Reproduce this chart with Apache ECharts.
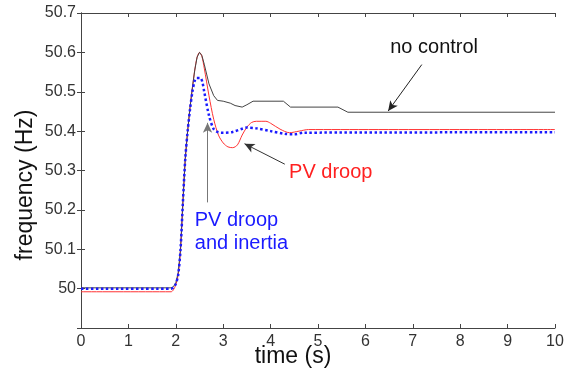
<html>
<head>
    <meta charset="utf-8">
    <title>frequency</title>
    <script src="https://cdn.jsdelivr.net/npm/echarts@6/dist/echarts.min.js"></script>
</head>
<body style="margin:0">
<div id="chartmain" style="width: 569px; height: 374px;"></div>
</body>
<script type="text/javascript">
    // data
    var noCtrlT = [0, 1.9, 1.95, 2.0, 2.05, 2.1, 2.15, 2.2, 2.25, 2.3, 2.35, 2.4, 2.45, 2.5, 2.55, 2.6, 2.7, 2.8, 2.88, 3.0, 3.15, 3.25, 3.4, 3.5, 3.63, 4.27, 4.42, 5.42, 5.63, 10];
    var noCtrlF = [50.002, 50.002, 50.005, 50.015, 50.04, 50.1, 50.22, 50.33, 50.4, 50.46, 50.51, 50.555, 50.588, 50.6, 50.592, 50.57, 50.52, 50.49, 50.478, 50.476, 50.471, 50.465, 50.461, 50.467, 50.476, 50.476, 50.461, 50.461, 50.448, 50.448];

    var droopT = [0, 1.9, 1.95, 2.0, 2.05, 2.1, 2.15, 2.2, 2.25, 2.3, 2.35, 2.4, 2.45, 2.5, 2.55, 2.6, 2.7, 2.8, 2.9, 3.0, 3.1, 3.2, 3.3, 3.4, 3.5, 3.6, 3.7, 3.9, 4.0, 4.2, 4.4, 4.6, 4.8, 10];
    var droopF = [49.992, 49.992, 49.997, 50.01, 50.035, 50.1, 50.22, 50.33, 50.4, 50.46, 50.51, 50.555, 50.588, 50.6, 50.59, 50.56, 50.49, 50.43, 50.39, 50.37, 50.36, 50.358, 50.365, 50.39, 50.41, 50.422, 50.425, 50.425, 50.42, 50.405, 50.396, 50.4, 50.404, 50.404];

    var inertiaT = [0, 1.9, 1.95, 2.0, 2.05, 2.1, 2.15, 2.2, 2.25, 2.3, 2.35, 2.4, 2.44, 2.52, 2.56, 2.6, 2.7, 2.8, 2.9, 3.0, 3.2, 3.4, 3.5, 3.7, 4.0, 4.3, 4.5, 4.7, 10];
    var inertiaF = [50.0, 50.0, 50.003, 50.012, 50.035, 50.1, 50.22, 50.33, 50.4, 50.455, 50.5, 50.528, 50.535, 50.535, 50.525, 50.5, 50.44, 50.405, 50.397, 50.396, 50.398, 50.406, 50.409, 50.407, 50.4, 50.393, 50.392, 50.396, 50.397];

    // annotations (data coords): text position, arrow start, arrow end
    var noCtrlNote = {text: 'no control', at: [7.45, 50.612], from: [7.19, 50.569], to: [6.48, 50.451]};
    var droopNote = {text: 'PV droop', at: [5.27, 50.296], from: [4.30, 50.316], to: [3.45, 50.368]};
    var inertiaNote = {text: 'PV droop\nand inertia', at: [2.40, 50.145], from: [2.67, 50.219], to: [2.67, 50.421]};

    var font = 'Liberation Sans, Arial, Helvetica, sans-serif';

    function pairs(t, f) {
        var out = [];
        for (var i = 0; i < t.length; i++) {
            out.push([t[i], f[i]]);
        }
        return out;
    }

    function arrow(note, color) {
        return {
            silent: true,
            symbol: ['none', 'arrow'],
            symbolSize: [7, 10],
            lineStyle: {color: color, width: 1, type: 'solid'},
            label: {show: false},
            data: [[{coord: note.from}, {coord: note.to}]]
        };
    }

    function label(note, color, align) {
        return {
            silent: true,
            symbol: 'circle',
            symbolSize: 0,
            label: {
                show: true,
                position: 'inside',
                align: align,
                color: color,
                fontSize: 20,
                lineHeight: 23,
                fontFamily: font,
                formatter: note.text
            },
            data: [{coord: note.at}]
        };
    }

    var myChart = echarts.init(document.getElementById('chartmain'));

    var axisLine = {show: true, lineStyle: {color: '#444', width: 1}};

    var option = {
        animation: false,
        backgroundColor: '#fff',
        grid: {left: 81, right: 14, top: 13, bottom: 46, outerBoundsMode: 'none', containLabel: false},
        xAxis: [{
            type: 'value', min: 0, max: 10, interval: 1,
            name: 'time (s)', nameLocation: 'middle', nameGap: 17, nameMoveOverlap: false,
            nameTextStyle: {fontSize: 23, color: '#111', fontFamily: font, padding: [0, 50, 0, 0]},
            axisLine: axisLine,
            axisTick: {inside: true, length: 4, lineStyle: {color: '#444'}},
            axisLabel: {color: '#333', fontSize: 16, fontFamily: font, margin: 6},
            splitLine: {show: false}
        }, {
            type: 'value', min: 0, max: 10, interval: 1, position: 'top',
            axisLine: axisLine,
            axisTick: {inside: true, length: 4, lineStyle: {color: '#444'}},
            axisLabel: {show: false},
            splitLine: {show: false}
        }],
        yAxis: [{
            type: 'value', min: 49.9, max: 50.7, interval: 0.1,
            name: 'frequency (Hz)', nameLocation: 'middle', nameGap: 44, nameMoveOverlap: false,
            nameTextStyle: {fontSize: 23, color: '#111', fontFamily: font, padding: [0, 29, 0, 0]},
            axisLine: axisLine,
            axisTick: {inside: true, length: 4, lineStyle: {color: '#444'}},
            axisLabel: {
                color: '#333', fontSize: 16, fontFamily: font, margin: 5,
                formatter: function (v) {
                    if (v < 49.95) return '';
                    if (Math.abs(v - 50) < 1e-6) return '50';
                    return v.toFixed(1);
                }
            },
            splitLine: {show: false}
        }, {
            type: 'value', min: 49.9, max: 50.7, interval: 0.1, position: 'right',
            axisLine: axisLine,
            axisTick: {inside: true, length: 4, lineStyle: {color: '#444'}},
            axisLabel: {show: false},
            splitLine: {show: false}
        }],
        series: [{
            name: 'PV droop',
            type: 'line',
            showSymbol: false,
            smooth: 0.3,
            data: pairs(droopT, droopF),
            lineStyle: {color: '#ff3333', width: 1},
            markLine: arrow(droopNote, '#333'),
            markPoint: label(droopNote, '#ff2020', 'center')
        }, {
            name: 'no control',
            type: 'line',
            showSymbol: false,
            data: pairs(noCtrlT, noCtrlF),
            lineStyle: {color: '#444', width: 1},
            markLine: arrow(noCtrlNote, '#222'),
            markPoint: label(noCtrlNote, '#111', 'center')
        }, {
            name: 'PV droop and inertia',
            type: 'line',
            showSymbol: false,
            smooth: 0.3,
            data: pairs(inertiaT, inertiaF),
            lineStyle: {color: '#1a1aff', width: 2.5, type: [2.5, 2.5]},
            markLine: arrow(inertiaNote, '#777'),
            markPoint: label(inertiaNote, '#1a1aff', 'left')
        }]
    };

    myChart.setOption(option);
</script>
</html>
